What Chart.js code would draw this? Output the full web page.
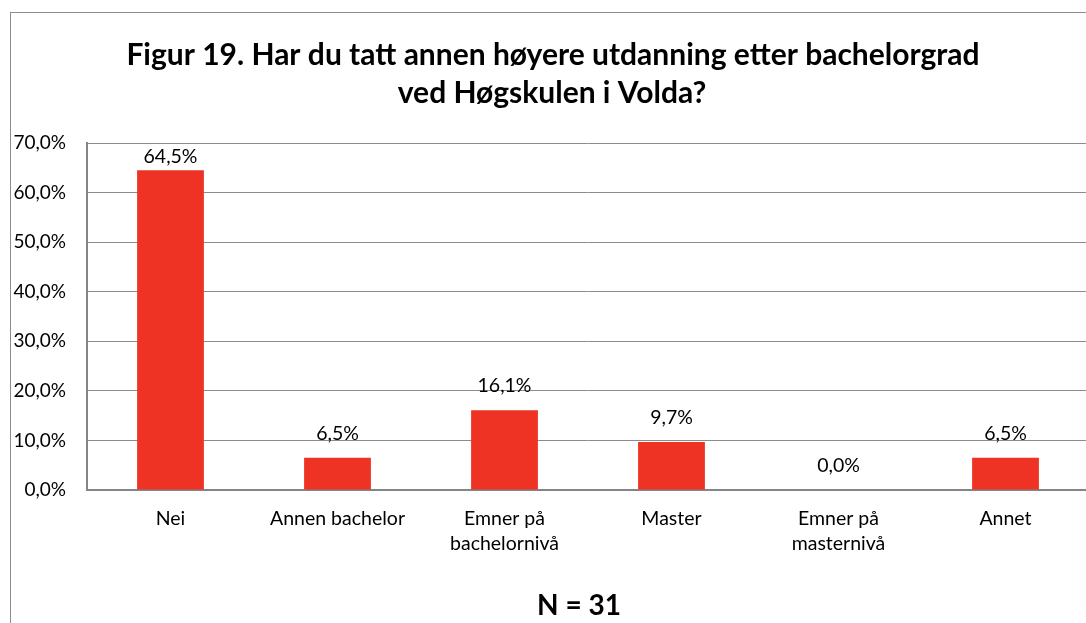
<!DOCTYPE html>
<html><head><meta charset="utf-8">
<script src="https://cdn.jsdelivr.net/npm/chart.js@4.4.0/dist/chart.umd.min.js"></script>
<style>
html,body{margin:0;padding:0;background:#fff;overflow:hidden;width:1086px;height:623px;}
#wrap{position:absolute;left:0;top:0;width:1089px;height:623px;}
#frame{position:absolute;left:10px;top:12px;width:1200px;height:700px;border:1px solid #8c8c8c;box-sizing:border-box;}
</style></head>
<body>
<div id="frame"></div>
<div id="wrap"><canvas id="c" width="1089" height="623"></canvas></div>
<script>
const categories = [["Nei"], ["Annen bachelor"], ["Emner på", "bachelornivå"], ["Master"], ["Emner på", "masternivå"], ["Annet"]];
const values = [64.5, 6.5, 16.1, 9.7, 0.0, 6.5];
const yTicks = [0, 10, 20, 30, 40, 50, 60, 70];
const titleLines = ["Figur 19. Har du tatt annen høyere utdanning etter bachelorgrad", "ved Høgskulen i Volda?"];
const footnote = "N = 31";

const FONT = "Lato, 'Open Sans', sans-serif";
const fmt = v => v.toFixed(1).replace('.', ',') + '%';

const labelPlugin = {
  id: 'labels',
  afterDatasetsDraw(chart) {
    const ctx = chart.ctx;
    const meta = chart.getDatasetMeta(0);
    ctx.save();
    ctx.font = "19.5px " + FONT;
    ctx.fillStyle = '#000';
    ctx.textAlign = 'center';
    ctx.textBaseline = 'middle';
    meta.data.forEach((bar, i) => {
      const y = Math.max(bar.y - 24, chart.chartArea.top + 14);
      ctx.fillText(fmt(values[i]), bar.x, y);
    });
    ctx.restore();
  },
  afterDraw(chart) {
    const ctx = chart.ctx;
    ctx.save();
    ctx.fillStyle = '#000';
    ctx.textAlign = 'center';
    ctx.textBaseline = 'middle';
    ctx.font = "bold 30px " + FONT;
    ctx.fillText(titleLines[0], 553, 55);
    ctx.fillText(titleLines[1], 552, 93);
    ctx.font = "bold 28px " + FONT;
    ctx.fillText(footnote, 579, 606);
    ctx.restore();
  }
};

new Chart(document.getElementById('c'), {
  type: 'bar',
  data: {
    labels: categories,
    datasets: [{
      data: values,
      backgroundColor: '#EE3325',
      borderWidth: 0,
      categoryPercentage: 1.0,
      barPercentage: 0.4
    }]
  },
  options: {
    responsive: false,
    animation: false,
    layout: { padding: { top: 143, left: 0, right: 0, bottom: 0 } },
    plugins: { legend: { display: false }, tooltip: { enabled: false }, title: { display: false } },
    scales: {
      x: {
        afterFit: s => { s.height = 133; },
        grid: { display: false, drawTicks: false },
        border: { color: '#858585', width: 2 },
        ticks: { padding: 16, color: '#000', font: { family: FONT, size: 19.5, lineHeight: 1.28 }, maxRotation: 0, autoSkip: false }
      },
      y: {
        min: 0, max: 70,
        afterFit: s => { s.width = 87; },
        afterBuildTicks: s => { s.ticks = yTicks.map(v => ({ value: v })); },
        grid: { color: '#8c8c8c', lineWidth: 1, drawTicks: false },
        border: { color: '#858585', width: 2 },
        ticks: { padding: 21, color: '#000', font: { family: FONT, size: 19 }, callback: v => fmt(v) }
      }
    }
  },
  plugins: [labelPlugin]
});
</script>
</body></html>
